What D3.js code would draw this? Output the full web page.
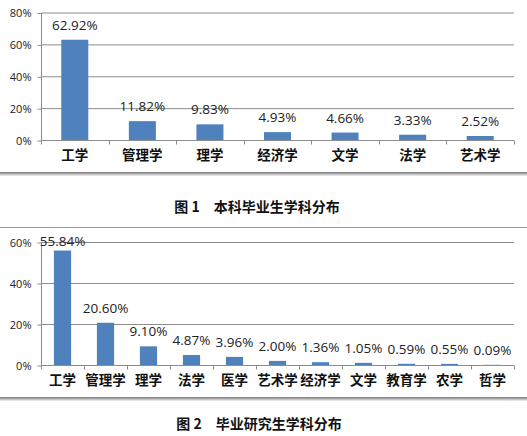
<!DOCTYPE html>
<html><head><meta charset="utf-8">
<script src="https://cdn.jsdelivr.net/npm/d3@7/dist/d3.min.js"></script>
<style>
html,body{margin:0;padding:0;background:#fff;}
svg{display:block;}
</style></head>
<body>
<svg id="c" width="527" height="436"></svg>
<script>
const cats1 = ["工学","管理学","理学","经济学","文学","法学","艺术学"];
const vals1 = [62.92,11.82,9.83,4.93,4.66,3.33,2.52];
const ticks1 = [0,20,40,60,80];
const title1 = "图 1\u3000本科毕业生学科分布";

const cats2 = ["工学","管理学","理学","法学","医学","艺术学","经济学","文学","教育学","农学","哲学"];
const vals2 = [55.84,20.60,9.10,4.87,3.96,2.00,1.36,1.05,0.59,0.55,0.09];
const ticks2 = [0,20,40,60];
const title2 = "图 2\u3000毕业研究生学科分布";

const svg = d3.select("#c");
const defs = svg.append("defs");
const g = defs.append("linearGradient").attr("id","sh").attr("x1",0).attr("y1",0).attr("x2",0).attr("y2",1);
g.append("stop").attr("offset","0%").attr("stop-color","#7a7a7a");
g.append("stop").attr("offset","40%").attr("stop-color","#a8a8a8");
g.append("stop").attr("offset","100%").attr("stop-color","#f4f4f4");

const barColor = "#4f81bd";
const gridColor = "#8c8c8c";
const numFont = "'Open Sans', 'DejaVu Sans', sans-serif";
const cjkFont = "'Noto Sans CJK SC', sans-serif";

function drawChart(cats, vals, ticks, yTop, yBottom, catY, labelMinY) {
  const x = d3.scaleBand().domain(cats).range([41, 514]).paddingInner(0.6).paddingOuter(0.3);
  const y = d3.scaleLinear().domain([0, d3.max(ticks)]).range([yBottom, yTop]);
  const G = svg.append("g");
  G.selectAll(".grid").data(ticks.filter(t=>t>0)).enter().append("line")
    .attr("x1",41).attr("x2",514).attr("y1",d=>y(d)+0.5).attr("y2",d=>y(d)+0.5)
    .attr("stroke",gridColor).attr("stroke-width",1);
  const ya = G.append("g").attr("transform","translate(41.5,0.5)")
    .call(d3.axisLeft(y).tickValues(ticks).tickSize(4).tickFormat(d=>d+"%"));
  ya.select(".domain").attr("stroke",gridColor).attr("d",`M-0,${y(ticks[ticks.length-1])}V${yBottom}`);
  ya.selectAll(".tick line").attr("stroke",gridColor);
  ya.selectAll(".tick text").attr("x",-10).attr("fill","#222")
    .style("font-family",numFont).style("font-size","11px");
  G.selectAll(".bar").data(vals).enter().append("rect")
    .attr("x",(d,i)=>x(cats[i])).attr("width",x.bandwidth())
    .attr("y",d=>y(d)).attr("height",d=>yBottom-y(d)).attr("fill",barColor);
  const xa = G.append("g").attr("transform",`translate(0,${yBottom+0.5})`);
  xa.append("line").attr("x1",41).attr("x2",514).attr("stroke",gridColor);
  const step = x.step();
  const bounds = d3.range(cats.length+1).map(i=>41 + i*step);
  xa.selectAll(".xt").data(bounds).enter().append("line")
    .attr("x1",d=>Math.round(d)+0.5).attr("x2",d=>Math.round(d)+0.5).attr("y1",0).attr("y2",4)
    .attr("stroke",gridColor);
  G.selectAll(".cat").data(cats).enter().append("text")
    .attr("x",d=>x(d)+x.bandwidth()/2).attr("y",catY).attr("text-anchor","middle")
    .style("font-family",cjkFont).style("font-weight","bold").style("font-size","13.5px")
    .attr("fill","#111").text(d=>d);
  G.selectAll(".lab").data(vals).enter().append("text")
    .attr("x",(d,i)=>x(cats[i])+x.bandwidth()/2)
    .attr("y",d=>Math.max(y(d)-10, labelMinY))
    .attr("text-anchor","middle")
    .style("font-family",numFont).style("font-size","13.5px").attr("fill","#222")
    .text(d=>d.toFixed(2)+"%");
}

drawChart(cats1, vals1, ticks1, 12.5, 140, 160, 0);
drawChart(cats2, vals2, ticks2, 242, 365, 385, 246);

svg.append("rect").attr("x",0).attr("y",172).attr("width",527).attr("height",4).attr("fill","url(#sh)");
svg.append("line").attr("x1",0).attr("x2",527).attr("y1",227.5).attr("y2",227.5).attr("stroke","#9a9a9a");
svg.append("rect").attr("x",0).attr("y",397).attr("width",527).attr("height",4).attr("fill","url(#sh)");

svg.append("text").attr("x",257).attr("y",212).attr("text-anchor","middle")
  .style("font-family",cjkFont).style("font-weight","bold").style("font-size","14px")
  .style("white-space","pre").attr("fill","#111").text(title1);
svg.append("text").attr("x",259).attr("y",429).attr("text-anchor","middle")
  .style("font-family",cjkFont).style("font-weight","bold").style("font-size","14px")
  .style("white-space","pre").attr("fill","#111").text(title2);
</script>
</body></html>
